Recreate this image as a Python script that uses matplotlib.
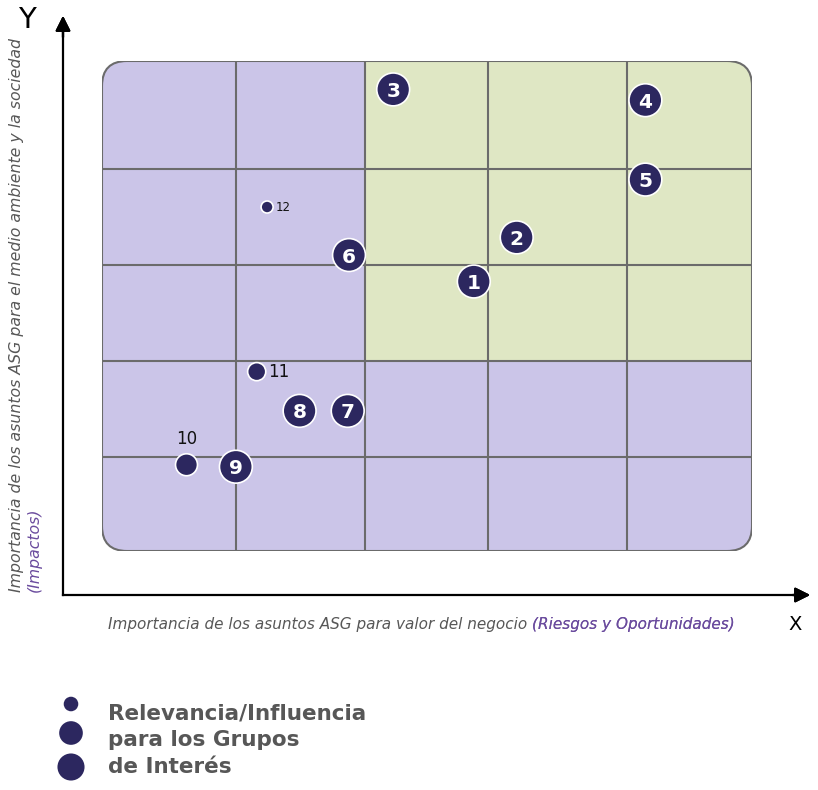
import matplotlib.pyplot as plt
from matplotlib.patches import FancyBboxPatch, Rectangle

# data: asuntos materiales (x = valor del negocio, y = impacto), escala 0-5
labels = ["1", "2", "3", "4", "5", "6", "7", "8", "9", "10", "11", "12"]
x_val = [2.86, 3.19, 2.24, 4.18, 4.18, 1.90, 1.89, 1.52, 1.03, 0.65, 1.19, 1.27]
y_val = [2.75, 3.20, 4.71, 4.60, 3.79, 3.02, 1.43, 1.43, 0.86, 0.88, 1.83, 3.51]
relevancia = [3, 3, 3, 3, 3, 3, 3, 3, 3, 2, 1.5, 1]   # tamaño del círculo

x_bounds = [0, 1.03, 2.02, 2.97, 4.04, 5]
y_bounds = [0, 0.96, 1.94, 2.92, 3.90, 5]

purple = "#CBC5E8"
green = "#DFE7C4"
navy = "#2C275F"
gridc = "#6b6b6b"
grey = "#575757"
violet = "#6B4C9E"
font = "DejaVu Sans"

size_map = {3: 560, 2: 250, 1.5: 170, 1: 75}

fig = plt.figure(figsize=(8.18, 7.9), dpi=100)
W, H = 818, 790

# panel with rounded corners
ax = fig.add_axes([102 / W, 1 - 551 / H, 650 / W, 490 / H])
ax.set_xlim(0, 5)
ax.set_ylim(0, 5)
ax.axis("off")

rs = 25 / 650
box = FancyBboxPatch((0, 0), 1, 1, boxstyle="round,pad=0,rounding_size=%f" % rs,
                     mutation_aspect=650 / 490, transform=ax.transAxes,
                     facecolor=purple, edgecolor="none", zorder=0)
ax.add_patch(box)
green_r = Rectangle((x_bounds[2], y_bounds[2]), 5 - x_bounds[2], 5 - y_bounds[2],
                    facecolor=green, edgecolor="none", zorder=1)
ax.add_patch(green_r)
green_r.set_clip_path(box)
for xb in x_bounds[1:-1]:
    ax.plot([xb, xb], [0, 5], color=gridc, lw=1.5, zorder=2)
for yb in y_bounds[1:-1]:
    ax.plot([0, 5], [yb, yb], color=gridc, lw=1.5, zorder=2)
border = FancyBboxPatch((0, 0), 1, 1, boxstyle="round,pad=0,rounding_size=%f" % rs,
                        mutation_aspect=650 / 490, transform=ax.transAxes,
                        facecolor="none", edgecolor=gridc, lw=1.5, zorder=3)
ax.add_patch(border)

ax.scatter(x_val, y_val, s=[size_map[r] for r in relevancia], color=navy,
           edgecolors="white", linewidths=1.2, zorder=4, clip_on=False)

for lab, x, y, r in zip(labels, x_val, y_val, relevancia):
    if r == 3:
        ax.text(x, y - 0.02, lab, color="white", fontsize=14.5, fontweight="bold",
                ha="center", va="center", zorder=5, family=font)
    elif lab == "10":
        ax.annotate(lab, (x, y), xytext=(0, 12), textcoords="offset points",
                    ha="center", va="bottom", fontsize=12, color="#111111", family=font)
    elif lab == "11":
        ax.annotate(lab, (x, y), xytext=(8, 0), textcoords="offset points",
                    ha="left", va="center", fontsize=12, color="#111111", family=font)
    else:
        ax.annotate(lab, (x, y), xytext=(6, 0), textcoords="offset points",
                    ha="left", va="center", fontsize=8.5, color="#111111", family=font)

# axis arrows
fig.add_artist(plt.Line2D([63 / W, 63 / W], [1 - 595 / H, 1 - 25 / H], color="black", lw=1.6))
fig.add_artist(plt.Line2D([63 / W, 800 / W], [1 - 595 / H, 1 - 595 / H], color="black", lw=1.6))
ax_arrow = dict(arrowstyle="-|>,head_length=0.9,head_width=0.45", color="black", lw=1.6)
fig.add_artist(plt.annotate("", xy=(63 / W, 1 - 13 / H), xytext=(63 / W, 1 - 40 / H),
                            xycoords="figure fraction", arrowprops=ax_arrow))
fig.add_artist(plt.annotate("", xy=(813 / W, 1 - 595 / H), xytext=(790 / W, 1 - 595 / H),
                            xycoords="figure fraction", arrowprops=ax_arrow))

fig.text(27 / W, 1 - 20 / H, "Y", fontsize=21, ha="center", va="center", family=font)
fig.text(795 / W, 1 - 624 / H, "X", fontsize=14, ha="center", va="center", family=font)

# axis titles
t1 = fig.text(108 / W, 1 - 625 / H, "Importancia de los asuntos ASG para valor del negocio ",
              fontsize=11, style="italic", color=grey, ha="left", va="center", family=font)
fig.canvas.draw()
fig.add_artist(plt.annotate("(Riesgos y Oportunidades)", xy=(1, 0.5), xycoords=t1,
                            va="center", ha="left", fontsize=11, style="italic",
                            color=violet, family=font))

fig.text(17 / W, 1 - 592 / H,
         "Importancia de los asuntos ASG para el medio ambiente y la sociedad",
         rotation=90, rotation_mode="anchor", ha="left", va="center",
         fontsize=11.3, style="italic", color=grey, family=font)
fig.text(34 / W, 1 - 592 / H, "(Impactos)", rotation=90, rotation_mode="anchor",
         ha="left", va="center", fontsize=11.3, style="italic",
         color=violet, family=font)

# legend
lg = fig.add_axes([0, 0, 1, 1], facecolor="none")
lg.set_xlim(0, W)
lg.set_ylim(H, 0)
lg.axis("off")
legend_sizes = [110, 290, 380]
legend_y = [704, 733, 767]
lg.scatter([71] * 3, legend_y, s=legend_sizes, color=navy, edgecolors="none")
fig.text(108 / W, 1 - 740 / H, "Relevancia/Influencia\npara los Grupos\nde Interés",
         fontsize=15.5, fontweight="bold", color=grey, ha="left", va="center",
         linespacing=1.42, family=font)

fig.savefig("out.png", dpi=100)
